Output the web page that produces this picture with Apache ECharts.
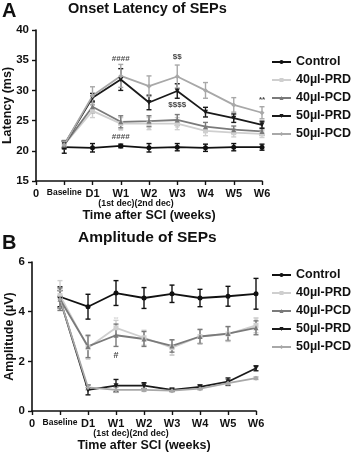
<!DOCTYPE html>
<html>
<head>
<meta charset="utf-8">
<script src="https://cdn.jsdelivr.net/npm/echarts@6/dist/echarts.min.js"></script>
<style>
  html, body { margin: 0; padding: 0; background: #fff; }
  #main { width: 358px; height: 454px; }
</style>
</head>
<body>
<div id="main"></div>
<script>
// x axis: 0 = origin, 1 = Baseline, 2 = D1, 3..8 = W1..W6
const tickLabels = ['0', 'Baseline', 'D1', 'W1', 'W2', 'W3', 'W4', 'W5', 'W6'];
const timePoints = [1, 2, 3, 4, 5, 6, 7, 8];
const groupNames = ['Control', '40µl-PRD', '40µl-PCD', '50µl-PRD', '50µl-PCD'];

// A: onset latency (ms), mean and error
const latControl    = [20.6, 20.5, 20.8, 20.5, 20.6, 20.5, 20.6, 20.6];
const latControlErr = [1.0, 0.7, 0.3, 0.7, 0.6, 0.6, 0.6, 0.5];
const lat40PRD      = [21.0, 26.6, 24.5, 24.5, 24.5, 23.3, 23.0, 22.8];
const lat40PRDErr   = [0.7, 1.1, 1.0, 1.0, 1.0, 0.8, 0.7, 0.6];
const lat40PCD      = [21.0, 27.3, 24.8, 24.9, 25.1, 24.0, 23.5, 23.2];
const lat40PCDErr   = [0.7, 1.0, 1.0, 0.9, 0.9, 0.7, 0.6, 0.6];
const lat50PRD      = [21.0, 28.8, 31.8, 28.0, 29.9, 26.4, 25.4, 24.3];
const lat50PRDErr   = [0.6, 0.7, 1.8, 1.2, 1.2, 0.8, 0.7, 0.6];
const lat50PCD      = [21.0, 29.1, 32.4, 30.7, 32.3, 30.0, 27.6, 26.3];
const lat50PCDErr   = [0.6, 1.5, 1.9, 1.7, 1.9, 1.3, 1.2, 1.0];

// B: amplitude (µV), mean and error
const ampControl    = [4.60, 4.20, 4.75, 4.55, 4.72, 4.55, 4.62, 4.72];
const ampControlErr = [0.40, 0.50, 0.50, 0.42, 0.35, 0.35, 0.40, 0.62];
const amp40PRD      = [4.65, 2.55, 3.35, 2.95, 2.55, 3.00, 3.10, 3.45];
const amp40PRDErr   = [0.60, 0.45, 0.30, 0.30, 0.30, 0.30, 0.30, 0.30];
const amp40PCD      = [4.50, 2.60, 3.05, 2.90, 2.62, 3.00, 3.12, 3.35];
const amp40PCDErr   = [0.45, 0.45, 0.45, 0.30, 0.25, 0.28, 0.28, 0.28];
const amp50PRD      = [4.50, 0.85, 1.02, 1.02, 0.85, 0.97, 1.18, 1.72];
const amp50PRDErr   = [0.35, 0.20, 0.25, 0.12, 0.06, 0.08, 0.15, 0.10];
const amp50PCD      = [4.50, 0.95, 0.85, 0.85, 0.82, 0.90, 1.12, 1.32];
const amp50PCDErr   = [0.35, 0.10, 0.10, 0.06, 0.05, 0.05, 0.06, 0.05];

// significance marks [x, y, text]
const annotA     = [[3, 35.3, '####'], [3, 22.4, '####'], [5, 35.5, '$$'], [5, 27.6, '$$$$'], [8, 28.4, '**']];
const annotAgray = [[2, 26.2, '**'], [3, 23.3, '**'], [4, 23.5, '**'], [5, 23.7, '**']];
const annotB     = [[3, 2.25, '#']];
const annotBgray = [[2, 2.05, '**'], [3, 3.7, '**'], [5, 2.2, '**'], [6, 2.65, '**'], [7, 2.78, '**'], [8, 3.65, '**']];

const FONT = 'Liberation Sans, Arial, sans-serif';
const colors = ['#111111', '#cfcfcf', '#7a7a7a', '#1a1a1a', '#a8a8a8'];
const symbols = ['circle', 'rect', 'triangle', 'triangle', 'diamond'];
const rotations = [0, 0, 0, 180, 0];

const latMeans = [latControl, lat40PRD, lat40PCD, lat50PRD, lat50PCD];
const latErrs = [latControlErr, lat40PRDErr, lat40PCDErr, lat50PRDErr, lat50PCDErr];
const ampMeans = [ampControl, amp40PRD, amp40PCD, amp50PRD, amp50PCD];
const ampErrs = [ampControlErr, amp40PRDErr, amp40PCDErr, amp50PRDErr, amp50PCDErr];

function pairs(vals) {
  return timePoints.map((t, i) => [t, vals[i]]);
}

// error bars drawn as custom marks (unnamed so the legend ignores them)
function errorSeries(vals, errs, color, idx) {
  return {
    type: 'custom',
    xAxisIndex: idx,
    yAxisIndex: idx,
    z: 1,
    silent: true,
    data: timePoints.map((t, i) => [t, vals[i] - errs[i], vals[i] + errs[i]]),
    renderItem: function (params, api) {
      const lo = api.coord([api.value(0), api.value(1)]);
      const hi = api.coord([api.value(0), api.value(2)]);
      const w = 2.5;
      const style = { stroke: color, lineWidth: 1.4 };
      return {
        type: 'group',
        children: [
          { type: 'line', shape: { x1: lo[0], y1: lo[1], x2: hi[0], y2: hi[1] }, style: style },
          { type: 'line', shape: { x1: lo[0] - w, y1: lo[1], x2: lo[0] + w, y2: lo[1] }, style: style },
          { type: 'line', shape: { x1: hi[0] - w, y1: hi[1], x2: hi[0] + w, y2: hi[1] }, style: style }
        ]
      };
    }
  };
}

function lineSeries(name, vals, i, idx) {
  return {
    type: 'line',
    name: name,
    xAxisIndex: idx,
    yAxisIndex: idx,
    z: 2,
    data: pairs(vals),
    symbol: symbols[i],
    symbolRotate: rotations[i],
    symbolSize: 5,
    color: colors[i],
    lineStyle: { color: colors[i], width: 1.8 },
    itemStyle: { color: colors[i] }
  };
}

function textSeries(list, idx, color, size) {
  return {
    type: 'scatter',
    xAxisIndex: idx,
    yAxisIndex: idx,
    symbolSize: 0,
    silent: true,
    z: 3,
    data: list.map(a => ({ value: [a[0], a[1]], name: a[2] })),
    label: {
      show: true, position: 'inside',
      formatter: p => p.name,
      color: color, fontSize: size, fontWeight: 'bold', fontFamily: FONT
    }
  };
}

const series = [];
groupNames.forEach((n, i) => {
  series.push(lineSeries(n, latMeans[i], i, 0));
  series.push(lineSeries(n, ampMeans[i], i, 1));
});
groupNames.forEach((n, i) => {
  series.push(errorSeries(latMeans[i], latErrs[i], colors[i], 0));
  series.push(errorSeries(ampMeans[i], ampErrs[i], colors[i], 1));
});
series.push(textSeries(annotA, 0, '#111', 8));
series.push(textSeries(annotAgray, 0, '#c8c8c8', 6));
series.push(textSeries(annotB, 1, '#111', 9));
series.push(textSeries(annotBgray, 1, '#c8c8c8', 6));

function xAxisCfg(idx) {
  return {
    type: 'value', gridIndex: idx, min: 0, max: 8, interval: 1,
    axisLine: { lineStyle: { color: '#111', width: 1.6 } },
    axisTick: { length: 4, lineStyle: { color: '#111', width: 1.4 } },
    splitLine: { show: false },
    axisLabel: {
      margin: 7, color: '#111', fontSize: 11, fontWeight: 'bold', fontFamily: FONT,
      formatter: v => (v === 1 ? '{s|' + tickLabels[v] + '}' : tickLabels[v]),
      rich: { s: { fontSize: 8.5, fontWeight: 'bold', fontFamily: FONT, color: '#111' } }
    },
    name: '{s|(1st dec)(2nd dec)}\n{t|Time after SCI (weeks)}',
    nameLocation: 'middle',
    nameGap: 18,
    nameMoveOverlap: false,
    nameTextStyle: {
      verticalAlign: 'top',
      rich: {
        s: { fontSize: 8.8, fontWeight: 'bold', fontFamily: FONT, color: '#111', padding: [0, 26, 0, 0], lineHeight: 10 },
        t: { fontSize: 12.5, fontWeight: 'bold', fontFamily: FONT, color: '#111', lineHeight: 13 }
      }
    }
  };
}

function yAxisCfg(idx, min, max, step, name, gap) {
  return {
    type: 'value', gridIndex: idx, min: min, max: max, interval: step,
    axisLine: { show: true, lineStyle: { color: '#111', width: 1.6 } },
    axisTick: { show: true, length: 4, lineStyle: { color: '#111', width: 1.4 } },
    splitLine: { show: false },
    axisLabel: { margin: 7, color: '#111', fontSize: 11.5, fontWeight: 'bold', fontFamily: FONT },
    name: name, nameLocation: 'middle', nameGap: gap, nameMoveOverlap: false,
    nameTextStyle: { color: '#111', fontSize: 12.5, fontWeight: 'bold', fontFamily: FONT }
  };
}

function legendCfg(top) {
  return {
    orient: 'vertical', left: 271, top: top, padding: 0,
    data: groupNames, itemWidth: 19, itemHeight: 5, itemGap: 4,
    selectedMode: false,
    textStyle: { color: '#111', fontSize: 12.5, fontWeight: 'bold', fontFamily: FONT, lineHeight: 14 }
  };
}

const chart = echarts.init(document.getElementById('main'), null, { renderer: 'canvas' });
chart.setOption({
  animation: false,
  backgroundColor: '#fff',
  title: [
    { text: 'A', left: 2, top: 1, padding: 0, textStyle: { fontSize: 20, fontWeight: 'bold', fontFamily: FONT, color: '#111' } },
    { text: 'Onset Latency of SEPs', left: 68, top: 1, padding: 0, textStyle: { fontSize: 14.5, fontWeight: 'bold', fontFamily: FONT, color: '#111' } },
    { text: 'B', left: 2, top: 233, padding: 0, textStyle: { fontSize: 20, fontWeight: 'bold', fontFamily: FONT, color: '#111' } },
    { text: 'Amplitude of SEPs', left: 78, top: 230, padding: 0, textStyle: { fontSize: 15.5, fontWeight: 'bold', fontFamily: FONT, color: '#111' } }
  ],
  legend: [legendCfg(55), legendCfg(268)],
  grid: [
    { left: 36, top: 30, width: 226, height: 151, containLabel: false, outerBoundsMode: 'none' },
    { left: 32, top: 262, width: 224, height: 149, containLabel: false, outerBoundsMode: 'none' }
  ],
  xAxis: [xAxisCfg(0), xAxisCfg(1)],
  yAxis: [
    yAxisCfg(0, 15, 40, 5, 'Latency (ms)', 22),
    yAxisCfg(1, 0, 6, 2, 'Amplitude (µV)', 16)
  ],
  series: series
});
</script>
</body>
</html>
